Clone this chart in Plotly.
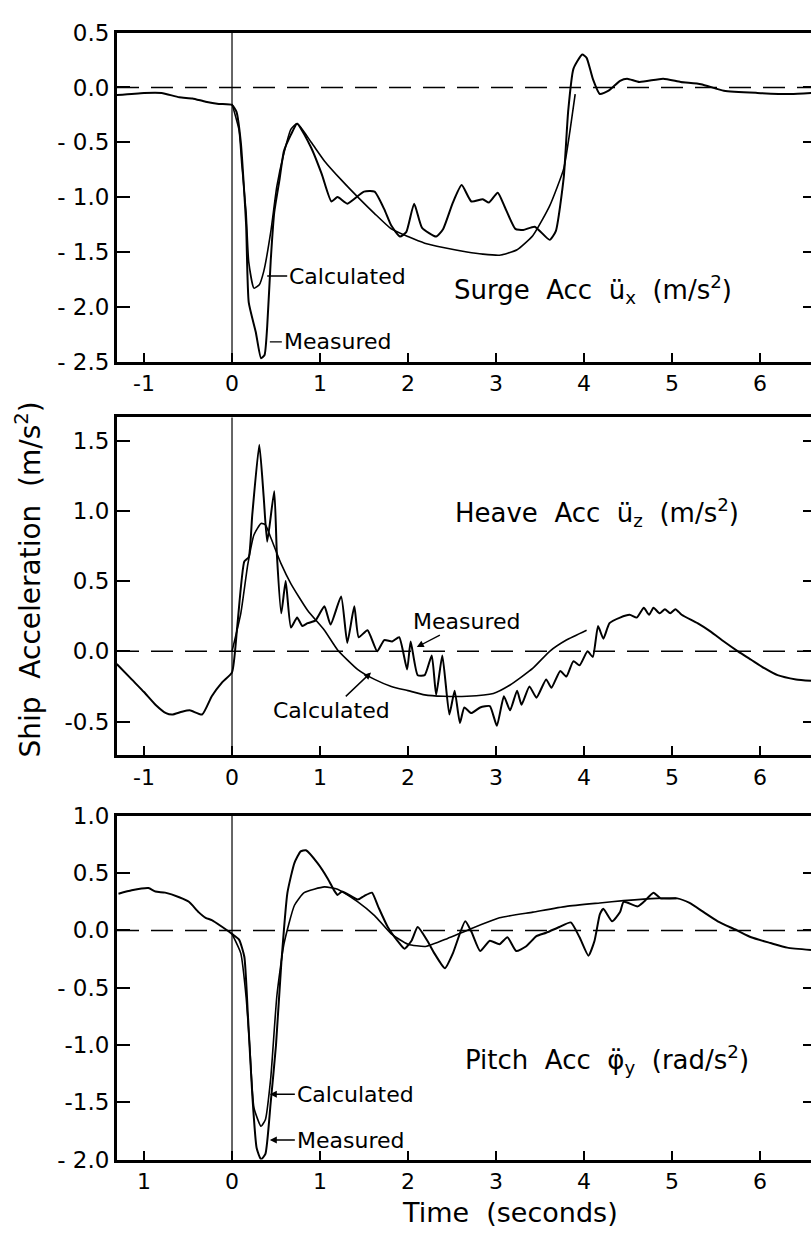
import plotly.graph_objects as go

# ---------------- data (time [s], value) ----------------
surge_measured = [(-1.31, -0.07), (-1.0, -0.05), (-0.8, -0.05), (-0.6, -0.09), (-0.45, -0.10),
                  (-0.3, -0.13), (-0.15, -0.15), (0.0, -0.16), (0.05, -0.22), (0.10, -0.50),
                  (0.16, -1.25), (0.19, -1.96), (0.27, -2.23), (0.33, -2.47), (0.37, -2.44),
                  (0.40, -2.18), (0.44, -1.58), (0.48, -1.14), (0.54, -0.84), (0.59, -0.58),
                  (0.67, -0.43), (0.74, -0.33), (0.90, -0.55), (1.02, -0.79), (1.13, -1.04),
                  (1.20, -1.00), (1.31, -1.06), (1.50, -0.95), (1.62, -0.95), (1.73, -1.11),
                  (1.81, -1.26), (1.91, -1.36), (1.98, -1.32), (2.07, -1.06), (2.16, -1.28),
                  (2.32, -1.36), (2.40, -1.29), (2.51, -1.05), (2.61, -0.89), (2.72, -1.04),
                  (2.85, -1.02), (2.92, -1.05), (3.02, -0.96), (3.10, -1.09), (3.22, -1.29),
                  (3.31, -1.30), (3.44, -1.27), (3.61, -1.39), (3.68, -1.31), (3.77, -0.82),
                  (3.82, -0.22), (3.88, 0.17), (3.98, 0.30), (4.03, 0.27), (4.10, 0.08),
                  (4.18, -0.06), (4.28, -0.03), (4.41, 0.06), (4.49, 0.08), (4.63, 0.05),
                  (4.90, 0.08), (5.10, 0.05), (5.33, 0.03), (5.59, -0.03), (5.97, -0.05),
                  (6.35, -0.06), (6.60, -0.05)]
surge_calculated = [(0.0, -0.15), (0.08, -0.39), (0.11, -0.69), (0.16, -1.14), (0.19, -1.59),
                    (0.25, -1.83), (0.31, -1.80), (0.36, -1.68), (0.44, -1.32), (0.51, -0.90),
                    (0.59, -0.60), (0.67, -0.38), (0.74, -0.33), (0.90, -0.50), (1.05, -0.67),
                    (1.25, -0.85), (1.43, -1.00), (1.62, -1.15), (1.81, -1.29), (2.0, -1.36),
                    (2.19, -1.42), (2.40, -1.46), (2.67, -1.50), (2.85, -1.52), (3.04, -1.53),
                    (3.24, -1.48), (3.42, -1.35), (3.61, -1.08), (3.77, -0.74), (3.84, -0.40),
                    (3.90, -0.06)]

heave_measured = [(-1.31, -0.09), (-1.14, -0.20), (-1.0, -0.29), (-0.87, -0.38), (-0.75, -0.44),
                  (-0.68, -0.45), (-0.57, -0.43), (-0.48, -0.42), (-0.34, -0.45), (-0.23, -0.32),
                  (-0.11, -0.22), (0.0, -0.15), (0.06, 0.18), (0.14, 0.64), (0.19, 0.67),
                  (0.23, 0.97), (0.31, 1.47), (0.36, 1.10), (0.40, 0.78), (0.48, 1.14),
                  (0.51, 0.69), (0.56, 0.27), (0.61, 0.50), (0.67, 0.17), (0.74, 0.24),
                  (0.80, 0.18), (0.86, 0.20), (0.95, 0.22), (1.05, 0.32), (1.12, 0.19),
                  (1.24, 0.39), (1.31, 0.06), (1.39, 0.32), (1.44, 0.10), (1.54, 0.15),
                  (1.65, 0.0), (1.73, 0.08), (1.82, 0.07), (1.90, 0.10), (1.99, -0.13),
                  (2.03, 0.07), (2.11, -0.17), (2.19, -0.17), (2.27, -0.03), (2.32, -0.31),
                  (2.39, -0.03), (2.47, -0.45), (2.53, -0.28), (2.59, -0.51), (2.64, -0.40),
                  (2.72, -0.44), (2.82, -0.40), (2.93, -0.39), (3.01, -0.53), (3.09, -0.32),
                  (3.16, -0.42), (3.24, -0.28), (3.29, -0.38), (3.38, -0.25), (3.46, -0.33),
                  (3.57, -0.20), (3.63, -0.26), (3.73, -0.14), (3.80, -0.18), (3.88, -0.07),
                  (3.95, -0.10), (4.04, 0.0), (4.10, -0.04), (4.16, 0.18), (4.22, 0.09),
                  (4.29, 0.20), (4.41, 0.24), (4.52, 0.26), (4.60, 0.24), (4.68, 0.31),
                  (4.74, 0.26), (4.79, 0.31), (4.86, 0.27), (4.92, 0.30), (4.98, 0.27),
                  (5.04, 0.30), (5.11, 0.26), (5.29, 0.20), (5.44, 0.14), (5.59, 0.07),
                  (5.75, 0.0), (5.90, -0.06), (6.05, -0.12), (6.20, -0.17), (6.41, -0.20),
                  (6.58, -0.21)]
heave_calculated = [(0.0, 0.0), (0.10, 0.27), (0.18, 0.62), (0.25, 0.83), (0.33, 0.91),
                    (0.38, 0.90), (0.44, 0.81), (0.56, 0.62), (0.67, 0.48), (0.86, 0.29),
                    (1.05, 0.15), (1.20, 0.01), (1.43, -0.13), (1.62, -0.20), (1.81, -0.25),
                    (2.0, -0.28), (2.19, -0.31), (2.40, -0.32), (2.67, -0.32), (2.97, -0.30),
                    (3.16, -0.24), (3.42, -0.12), (3.61, 0.0), (3.80, 0.08), (4.03, 0.15)]

pitch_measured = [(-1.29, 0.32), (-1.14, 0.35), (-0.95, 0.37), (-0.87, 0.34), (-0.76, 0.33),
                  (-0.60, 0.29), (-0.49, 0.25), (-0.38, 0.16), (-0.30, 0.11), (-0.23, 0.09),
                  (-0.11, 0.03), (0.0, -0.03), (0.08, -0.08), (0.14, -0.23), (0.18, -0.73),
                  (0.23, -1.43), (0.28, -1.90), (0.33, -2.0), (0.38, -1.95), (0.44, -1.50),
                  (0.50, -1.0), (0.56, -0.29), (0.63, 0.33), (0.71, 0.59), (0.78, 0.69),
                  (0.84, 0.70), (0.97, 0.59), (1.09, 0.45), (1.16, 0.35), (1.20, 0.31),
                  (1.25, 0.34), (1.43, 0.27), (1.50, 0.30), (1.59, 0.33), (1.66, 0.21),
                  (1.77, 0.03), (1.89, -0.10), (1.96, -0.16), (2.04, -0.09), (2.11, 0.03),
                  (2.22, -0.09), (2.30, -0.20), (2.42, -0.33), (2.51, -0.20), (2.65, 0.08),
                  (2.72, -0.01), (2.82, -0.18), (2.93, -0.09), (3.04, -0.12), (3.13, -0.06),
                  (3.23, -0.18), (3.34, -0.14), (3.46, -0.05), (3.57, -0.02), (3.72, 0.03),
                  (3.85, 0.07), (3.95, -0.06), (4.05, -0.22), (4.12, -0.09), (4.18, 0.14),
                  (4.22, 0.19), (4.32, 0.08), (4.41, 0.16), (4.45, 0.25), (4.61, 0.21),
                  (4.68, 0.25), (4.79, 0.33), (4.87, 0.28), (5.06, 0.28), (5.20, 0.24),
                  (5.36, 0.16), (5.52, 0.08), (5.74, 0.0), (5.90, -0.06), (6.12, -0.11),
                  (6.31, -0.15), (6.58, -0.17)]
pitch_calculated = [(0.0, -0.03), (0.10, -0.20), (0.16, -0.58), (0.20, -1.0), (0.25, -1.55),
                    (0.33, -1.71), (0.38, -1.65), (0.44, -1.29), (0.51, -0.57), (0.59, -0.12),
                    (0.71, 0.22), (0.82, 0.33), (1.05, 0.38), (1.20, 0.36), (1.43, 0.25),
                    (1.62, 0.13), (1.81, -0.03), (2.0, -0.12), (2.20, -0.14), (2.45, -0.07),
                    (2.67, 0.0), (3.04, 0.11), (3.42, 0.16), (3.80, 0.21), (4.18, 0.24),
                    (4.45, 0.26), (4.83, 0.28), (5.05, 0.28)]

x_tickvals = [-1, 0, 1, 2, 3, 4, 5, 6]
x_ticktext_top = ["-1", "0", "1", "2", "3", "4", "5", "6"]
x_ticktext_bottom = ["1", "0", "1", "2", "3", "4", "5", "6"]
surge_yticks = [0.5, 0.0, -0.5, -1.0, -1.5, -2.0, -2.5]
surge_ylabels = ["0.5", "0.0", "- 0.5", "- 1.0", "- 1.5", "- 2.0", "- 2.5"]
heave_yticks = [1.5, 1.0, 0.5, 0.0, -0.5]
heave_ylabels = ["1.5", "1.0", "0.5", "0.0", "-0.5"]
pitch_yticks = [1.0, 0.5, 0.0, -0.5, -1.0, -1.5, -2.0]
pitch_ylabels = ["1.0", "0.5", "0.0", "- 0.5", "-1.0", "-1.5", "- 2.0"]

# ---------------- layout helpers ----------------
W, H = 811, 1244
FONT = "DejaVu Sans"
XR = [-1.307, 6.58]

panels = [
    (surge_measured, surge_calculated, [-2.5, 0.5], surge_yticks, surge_ylabels, [0.7138, 0.9839], x_ticktext_top),
    (heave_measured, heave_calculated, [-0.739, 1.665], heave_yticks, heave_ylabels, [0.3907, 0.6680], x_ticktext_top),
    (pitch_measured, pitch_calculated, [-2.0, 1.0], pitch_yticks, pitch_ylabels, [0.0587, 0.3408], x_ticktext_bottom),
]


def sfx(n):
    return "" if n == 1 else str(n)


fig = go.Figure()
layout = dict(width=W, height=H, margin=dict(l=117, r=0, t=0, b=0),
              paper_bgcolor="white", plot_bgcolor="white", showlegend=False,
              font=dict(family=FONT, color="black", size=20))
shapes = []
XREF, YREF = {}, {}

for i, (meas, calc, yr, yt, yl, dom, xtt) in enumerate(panels, start=1):
    xa, ya = "x" + sfx(i), "y" + sfx(i)
    XREF[i], YREF[i] = xa, ya
    yr_name = "y" + sfx(i + 3)
    for series, w in ((meas, 2.0), (calc, 1.6)):
        fig.add_trace(go.Scatter(x=[p[0] for p in series], y=[p[1] for p in series],
                                 mode="lines", line=dict(color="black", width=w, shape="spline", smoothing=0.5),
                                 xaxis=xa, yaxis=ya, hoverinfo="skip"))
    fig.add_trace(go.Scatter(x=[None], y=[None], xaxis=xa, yaxis=yr_name, hoverinfo="skip"))

    layout["xaxis" + sfx(i)] = dict(domain=[0, 1], range=XR, anchor=ya, tickvals=x_tickvals, ticktext=xtt,
                                    ticks="inside", ticklen=9, tickwidth=2, tickcolor="black",
                                    showline=True, linewidth=3, linecolor="black", mirror=True,
                                    showgrid=False, zeroline=False, tickfont=dict(size=22, family=FONT))
    layout["yaxis" + sfx(i)] = dict(domain=dom, range=yr, anchor=xa, tickvals=yt, ticktext=yl,
                                    ticks="inside", ticklen=13, tickwidth=2, tickcolor="black",
                                    showline=True, linewidth=3, linecolor="black", mirror=False,
                                    showgrid=False, zeroline=False, tickfont=dict(size=23, family=FONT))
    layout["yaxis" + sfx(i + 3)] = dict(domain=dom, range=yr, anchor=xa, overlaying=ya, side="right",
                                        tickvals=yt, ticks="inside", ticklen=8, tickwidth=2, tickcolor="black",
                                        showticklabels=False, showline=False, showgrid=False, zeroline=False)
    shapes.append(dict(type="line", xref=xa + " domain", yref=ya, x0=0, x1=1, y0=0, y1=0,
                       line=dict(color="black", width=1.4, dash="22px,12px")))
    shapes.append(dict(type="line", xref=xa, yref=ya + " domain", x0=0, x1=0, y0=0, y1=1,
                       line=dict(color="black", width=1.2)))

layout["shapes"] = shapes

TXT = dict(family=FONT, size=22, color="black")
ann = []


def label(text, p, x, y, ax, ay, head=0, anchor="left"):
    ann.append(dict(text=text, xref=XREF[p], yref=YREF[p], x=x, y=y, ax=ax, ay=ay, showarrow=True,
                    arrowhead=head, arrowsize=1, arrowwidth=1.4, arrowcolor="black",
                    xanchor=anchor, yanchor="middle", font=TXT, standoff=0, startstandoff=0))


def text(t, p, x, y, size=26, anchor="center"):
    ann.append(dict(text=t, xref=XREF[p], yref=YREF[p], x=x, y=y, showarrow=False,
                    xanchor=anchor, yanchor="middle", font=dict(family=FONT, size=size, color="black")))


label("Calculated", 1, 0.40, -1.72, 20, 0)
label("Measured", 1, 0.43, -2.32, 12, 0)
text("Surge  Acc  ü<sub>x</sub>  (m/s<sup>2</sup>)", 1, 4.10, -1.84)
label("Measured", 2, 2.10, 0.03, 50, -26, head=2, anchor="center")
label("Calculated", 2, 1.58, -0.15, -40, 38, head=2, anchor="center")
text("Heave  Acc  ü<sub>z</sub>  (m/s<sup>2</sup>)", 2, 4.15, 0.99)
label("Calculated", 3, 0.43, -1.43, 25, 0, head=2)
label("Measured", 3, 0.43, -1.83, 25, 0, head=2)
text("Pitch  Acc  φ\u0308<sub>y</sub>  (rad/s<sup>2</sup>)", 3, 4.26, -1.13)

ann.append(dict(text="Ship  Acceleration  (m/s<sup>2</sup>)", xref="paper", yref="paper",
                x=-0.128, y=0.535, showarrow=False, textangle=-90, xanchor="center", yanchor="middle",
                font=dict(family=FONT, size=28, color="black")))
ann.append(dict(text="Time  (seconds)", xref="paper", yref="paper", x=0.566, y=0.0153,
                showarrow=False, xanchor="center", yanchor="middle",
                font=dict(family=FONT, size=27, color="black")))
layout["annotations"] = ann

fig.update_layout(**layout)
fig.write_html("out.html")
